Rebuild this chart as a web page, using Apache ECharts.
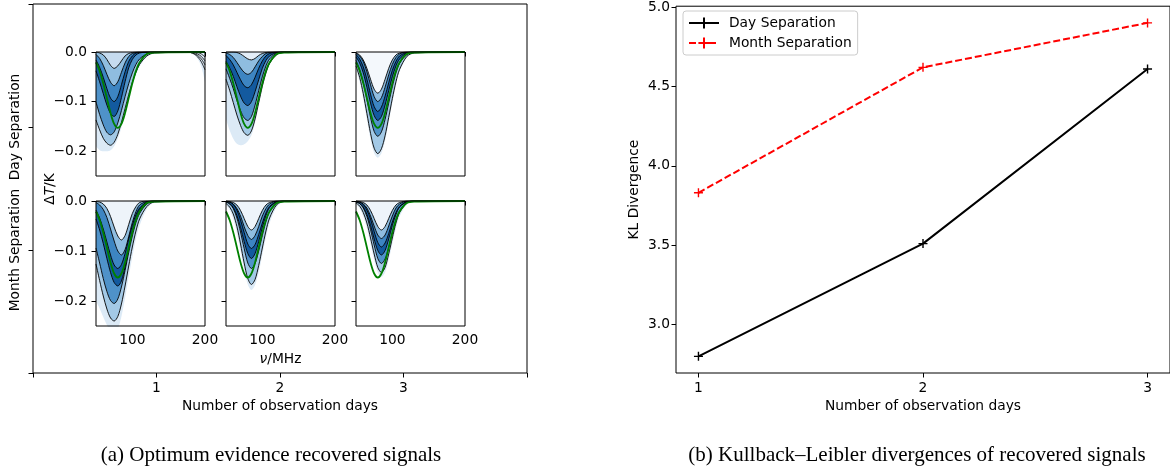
<!DOCTYPE html>
<html><head><meta charset="utf-8">
<script src="https://cdn.jsdelivr.net/npm/echarts@6/dist/echarts.min.js"></script>
<style>html,body{margin:0;padding:0;background:#fff}#c{width:1170px;height:471px}</style>
</head><body><div id="c"></div>
<script>
// ---------- data ----------
const days = [1, 2, 3];
const klDay = [2.80, 3.51, 4.61];
const klMonth = [3.83, 4.62, 4.90];
const klTicks = [3.0, 3.5, 4.0, 4.5, 5.0];
const outerXTicks = [0, 1, 2, 3, 4];
const outerYTicks = [0, 1, 2, 3];
const rowLabels = ['', 'Month Separation', 'Day Separation', ''];
const innerXTicks = [100, 200];
const innerYTicks = [0, -0.1, -0.2];

const freq = [50, 55, 60, 65, 70, 75, 80, 85, 90, 95, 100, 105, 110, 120, 130, 200];
const trueSignal = [-0.021,-0.038,-0.063,-0.093,-0.123,-0.145,-0.153,-0.145,-0.123,-0.093,-0.063,-0.038,-0.021,-0.004,-0.001,0];

const day1_c1 = [0,-0.002,-0.006,-0.015,-0.027,-0.033,-0.028,-0.018,-0.008,-0.003,-0.001,0,0,0,0,0];
const day1_c2 = [-0.005,-0.013,-0.027,-0.045,-0.061,-0.068,-0.060,-0.041,-0.022,-0.009,-0.003,-0.001,0,0,0,0];
const day1_c3 = [-0.016,-0.031,-0.051,-0.074,-0.093,-0.100,-0.090,-0.066,-0.040,-0.019,-0.008,-0.002,-0.001,0,0,0];
const day1_c4 = [-0.038,-0.060,-0.084,-0.107,-0.124,-0.130,-0.119,-0.092,-0.060,-0.032,-0.015,-0.006,-0.002,0,0,0];
const day1_c5 = [-0.101,-0.126,-0.147,-0.162,-0.167,-0.161,-0.143,-0.118,-0.090,-0.064,-0.042,-0.025,-0.014,-0.004,-0.001,0];
const day1_c6 = [-0.137,-0.157,-0.174,-0.184,-0.188,-0.182,-0.166,-0.142,-0.114,-0.086,-0.061,-0.041,-0.025,-0.008,-0.002,0];
const day1_halo = [-0.190,-0.198,-0.200,-0.200,-0.198,-0.190,-0.175,-0.152,-0.124,-0.095,-0.068,-0.046,-0.029,-0.010,-0.003,0];

const day2_c1 = [0,0,0,-0.001,-0.004,-0.009,-0.014,-0.016,-0.013,-0.007,-0.003,-0.001,0,0,0,0];
const day2_c2 = [-0.002,-0.005,-0.011,-0.021,-0.032,-0.041,-0.045,-0.041,-0.030,-0.018,-0.009,-0.003,-0.001,0,0,0];
const day2_c3 = [-0.007,-0.015,-0.026,-0.041,-0.056,-0.068,-0.072,-0.066,-0.051,-0.033,-0.018,-0.008,-0.003,0,0,0];
const day2_c4 = [-0.019,-0.032,-0.049,-0.070,-0.089,-0.103,-0.108,-0.100,-0.080,-0.056,-0.033,-0.017,-0.008,-0.001,0,0];
const day2_c5 = [-0.034,-0.053,-0.074,-0.098,-0.118,-0.133,-0.138,-0.130,-0.107,-0.078,-0.050,-0.028,-0.014,-0.002,0,0];
const day2_c6 = [-0.055,-0.077,-0.102,-0.127,-0.148,-0.163,-0.168,-0.159,-0.135,-0.102,-0.069,-0.042,-0.023,-0.005,-0.001,0];
const day2_halo = [-0.135,-0.158,-0.175,-0.185,-0.188,-0.186,-0.180,-0.168,-0.143,-0.109,-0.075,-0.047,-0.026,-0.006,-0.001,0];

const day3_c1 = [-0.002,-0.006,-0.016,-0.033,-0.055,-0.075,-0.083,-0.075,-0.055,-0.033,-0.016,-0.006,-0.002,0,0,0];
const day3_c2 = [-0.002,-0.008,-0.019,-0.040,-0.066,-0.090,-0.100,-0.092,-0.071,-0.046,-0.025,-0.011,-0.004,0,0,0];
const day3_c3 = [-0.005,-0.014,-0.030,-0.055,-0.085,-0.110,-0.120,-0.111,-0.089,-0.062,-0.037,-0.019,-0.008,-0.001,0,0];
const day3_c4 = [-0.010,-0.022,-0.042,-0.071,-0.103,-0.128,-0.138,-0.130,-0.107,-0.078,-0.050,-0.028,-0.014,-0.002,0,0];
const day3_c5 = [-0.017,-0.035,-0.061,-0.096,-0.132,-0.160,-0.170,-0.161,-0.136,-0.103,-0.070,-0.042,-0.023,-0.005,-0.001,0];
const day3_c6 = [-0.028,-0.051,-0.084,-0.124,-0.164,-0.194,-0.205,-0.195,-0.169,-0.132,-0.094,-0.060,-0.035,-0.009,-0.002,0];
const day3_halo = [-0.035,-0.060,-0.095,-0.136,-0.176,-0.204,-0.213,-0.204,-0.179,-0.142,-0.103,-0.067,-0.040,-0.011,-0.003,0];

const month1_c1 = [-0.001,-0.002,-0.006,-0.015,-0.031,-0.052,-0.070,-0.078,-0.069,-0.047,-0.025,-0.011,-0.003,0,0,0];
const month1_c2 = [-0.003,-0.008,-0.017,-0.033,-0.056,-0.080,-0.100,-0.108,-0.097,-0.071,-0.043,-0.021,-0.008,-0.001,0,0];
const month1_c3 = [-0.018,-0.034,-0.056,-0.082,-0.108,-0.128,-0.135,-0.127,-0.105,-0.076,-0.049,-0.027,-0.014,-0.002,0,0];
const month1_c4 = [-0.036,-0.058,-0.085,-0.115,-0.143,-0.163,-0.170,-0.160,-0.132,-0.096,-0.061,-0.035,-0.017,-0.003,0,0];
const month1_c5 = [-0.094,-0.124,-0.155,-0.181,-0.199,-0.205,-0.196,-0.172,-0.139,-0.103,-0.070,-0.043,-0.025,-0.006,-0.001,0];
const month1_c6 = [-0.126,-0.159,-0.190,-0.216,-0.234,-0.240,-0.231,-0.206,-0.170,-0.130,-0.092,-0.060,-0.036,-0.011,-0.002,0];
const month1_halo = [-0.200,-0.215,-0.232,-0.248,-0.260,-0.265,-0.256,-0.231,-0.194,-0.152,-0.112,-0.076,-0.049,-0.016,-0.004,0];

const month2_c1 = [0,-0.001,-0.003,-0.008,-0.019,-0.035,-0.051,-0.058,-0.051,-0.035,-0.019,-0.008,-0.003,0,0,0];
const month2_c2 = [0,-0.002,-0.006,-0.015,-0.030,-0.051,-0.069,-0.077,-0.069,-0.051,-0.030,-0.015,-0.006,0,0,0];
const month2_c3 = [-0.001,-0.002,-0.007,-0.018,-0.038,-0.063,-0.086,-0.095,-0.087,-0.067,-0.044,-0.024,-0.011,-0.001,0,0];
const month2_c4 = [-0.002,-0.005,-0.013,-0.029,-0.053,-0.081,-0.105,-0.115,-0.105,-0.081,-0.053,-0.029,-0.013,-0.002,0,0];
const month2_c5 = [-0.002,-0.006,-0.015,-0.034,-0.062,-0.095,-0.124,-0.135,-0.125,-0.100,-0.069,-0.041,-0.021,-0.004,0,0];
const month2_c6 = [-0.005,-0.012,-0.026,-0.051,-0.086,-0.124,-0.155,-0.167,-0.157,-0.129,-0.094,-0.060,-0.034,-0.007,-0.001,0];
const month2_halo = [-0.008,-0.018,-0.036,-0.064,-0.100,-0.138,-0.167,-0.178,-0.168,-0.143,-0.108,-0.073,-0.044,-0.012,-0.002,0];

const month3_c1 = [0,-0.001,-0.003,-0.008,-0.019,-0.035,-0.051,-0.058,-0.051,-0.035,-0.019,-0.008,-0.003,0,0,0];
const month3_c2 = [0,-0.002,-0.006,-0.014,-0.030,-0.050,-0.068,-0.075,-0.068,-0.050,-0.030,-0.014,-0.006,0,0,0];
const month3_c3 = [-0.001,-0.002,-0.007,-0.018,-0.036,-0.061,-0.083,-0.092,-0.084,-0.065,-0.042,-0.023,-0.011,-0.001,0,0];
const month3_c4 = [-0.002,-0.005,-0.012,-0.027,-0.049,-0.076,-0.099,-0.108,-0.099,-0.076,-0.049,-0.027,-0.012,-0.002,0,0];
const month3_c5 = [-0.002,-0.005,-0.014,-0.031,-0.057,-0.088,-0.115,-0.125,-0.116,-0.093,-0.064,-0.038,-0.020,-0.003,0,0];
const month3_c6 = [-0.004,-0.010,-0.023,-0.044,-0.074,-0.106,-0.133,-0.143,-0.133,-0.106,-0.074,-0.044,-0.023,-0.004,0,0];
const month3_halo = [-0.007,-0.015,-0.031,-0.055,-0.086,-0.118,-0.143,-0.152,-0.143,-0.118,-0.086,-0.055,-0.031,-0.007,-0.001,0];

// high-frequency noise in the 1-day / day-separation panel
const noiseFreq = [175, 180, 185, 190, 195, 200];
const noise_1 = [0, 0, 0, -0.001, -0.004, -0.010];
const noise_2 = [0, 0, -0.001, -0.004, -0.009, -0.018];
const noise_3 = [0, -0.001, -0.003, -0.007, -0.014, -0.026];
const noise_4 = [0, -0.001, -0.004, -0.010, -0.020, -0.036];
const noise_halo = [0, -0.002, -0.006, -0.014, -0.030, -0.060];

// ---------- build ----------
const FONT = 'DejaVu Sans';
const FS = 13.8;
const lab = {color: '#000', fontSize: FS, fontFamily: FONT};
const italicRich = {i: {fontStyle: 'italic', fontSize: FS, fontFamily: FONT, color: '#000'}, n: {fontSize: FS, fontFamily: FONT, color: '#000'}};

const panels = [
  {row: 0, col: 0, c: [day1_c1, day1_c2, day1_c3, day1_c4, day1_c5, day1_c6], halo: day1_halo, top: '#c6dbef'},
  {row: 0, col: 1, c: [day2_c1, day2_c2, day2_c3, day2_c4, day2_c5, day2_c6], halo: day2_halo, top: '#e4eef8'},
  {row: 0, col: 2, c: [day3_c1, day3_c2, day3_c3, day3_c4, day3_c5, day3_c6], halo: day3_halo, top: '#f4f8fc'},
  {row: 1, col: 0, c: [month1_c1, month1_c2, month1_c3, month1_c4, month1_c5, month1_c6], halo: month1_halo, top: '#eef4fa'},
  {row: 1, col: 1, c: [month2_c1, month2_c2, month2_c3, month2_c4, month2_c5, month2_c6], halo: month2_halo, top: '#eef4fa'},
  {row: 1, col: 2, c: [month3_c1, month3_c2, month3_c3, month3_c4, month3_c5, month3_c6], halo: month3_halo, top: '#eef4fa'}
];
const colLeft = [96, 226, 356];
const rowTop = [52, 201];
const rowH = [124, 125];
const bandColors = ['#8fbde0', '#3d85c2', '#135a9f', '#4f92c9', '#a3c9e6']; // c2..c6 fills

const pts = (xs, arr) => xs.map((f, i) => [f, arr[i]]);
const grids = [], xAxes = [], yAxes = [], series = [];

// outer frame (panel a)
grids.push({left: 33, top: 4, width: 494, height: 369, show: true, borderColor: '#000', borderWidth: 1, backgroundColor: 'transparent', z: 10});
xAxes.push({type: 'value', gridIndex: 0, min: 0, max: 4, axisLine: {show: false}, splitLine: {show: false},
  axisTick: {show: true, length: 4.5, lineStyle: {color: '#000'}, customValues: outerXTicks},
  axisLabel: {...lab, margin: 8, customValues: days},
  name: 'Number of observation days', nameLocation: 'middle', nameGap: 26, nameTextStyle: {...lab}});
yAxes.push({type: 'value', gridIndex: 0, min: 0, max: 3, axisLine: {show: false}, splitLine: {show: false},
  axisTick: {show: true, length: 4.5, lineStyle: {color: '#000'}, customValues: outerYTicks},
  axisLabel: {...lab, margin: 11, rotate: 90, customValues: [1, 2], formatter: v => rowLabels[Math.round(v)]}});

panels.forEach((p, k) => {
  const gi = k + 1;
  grids.push({left: colLeft[p.col], top: rowTop[p.row], width: 109, height: rowH[p.row], show: true,
    borderColor: '#000', borderWidth: 1, backgroundColor: 'transparent', z: 10});
  const xa = {type: 'value', gridIndex: gi, min: 50, max: 200, axisLine: {show: false}, splitLine: {show: false},
    axisTick: {show: true, length: 4.5, lineStyle: {color: '#000'}, customValues: innerXTicks},
    axisLabel: {show: p.row === 1, ...lab, margin: 7, customValues: innerXTicks}};
  if (p.row === 1 && p.col === 1) {
    Object.assign(xa, {name: '{i|ν}{n|/MHz}', nameLocation: 'middle', nameGap: 26, nameTextStyle: {...lab, rich: italicRich}});
  }
  xAxes.push(xa);
  yAxes.push({type: 'value', gridIndex: gi, min: -0.25, max: 0, axisLine: {show: false}, splitLine: {show: false},
    axisTick: {show: true, length: 4.5, lineStyle: {color: '#000'}, customValues: innerYTicks},
    axisLabel: {show: p.col === 0, ...lab, margin: 9, customValues: innerYTicks,
      formatter: v => (Math.abs(v) < 1e-9 ? '0.0' : '\u2212' + Math.abs(v).toFixed(1))}});
  const fillSeq = [[p.halo, '#dceaf6'], [p.c[5], bandColors[4]], [p.c[4], bandColors[3]], [p.c[3], bandColors[2]],
                   [p.c[2], bandColors[1]], [p.c[1], bandColors[0]], [p.c[0], p.top]];
  const base = {type: 'line', xAxisIndex: gi, yAxisIndex: gi, symbol: 'none', smooth: 0.3, silent: true, animation: false};
  fillSeq.forEach(([arr, col]) => series.push({...base, data: pts(freq, arr), lineStyle: {opacity: 0}, areaStyle: {color: col, opacity: 1}, z: 2}));
  if (k === 0) {
    series.push({...base, data: pts(noiseFreq, noise_halo), lineStyle: {opacity: 0}, areaStyle: {color: '#dceaf6', opacity: 1}, z: 2});
    [noise_1, noise_2, noise_3, noise_4].forEach(arr => series.push({...base, data: pts(noiseFreq, arr), lineStyle: {color: '#000', width: 0.8}, z: 3}));
  }
  p.c.forEach(arr => series.push({...base, data: pts(freq, arr), lineStyle: {color: '#000', width: 0.9}, z: 3}));
  series.push({...base, data: pts(freq, trueSignal), lineStyle: {color: '#008000', width: 1.8}, z: 4});
});

// right panel (b)
grids.push({left: 676, top: 4, width: 494, height: 369, show: true, borderColor: '#000', borderWidth: 1, backgroundColor: 'transparent', z: 10});
xAxes.push({type: 'value', gridIndex: 7, min: 0.9, max: 3.1, axisLine: {show: false}, splitLine: {show: false},
  axisTick: {show: true, length: 4.5, lineStyle: {color: '#000'}, customValues: days},
  axisLabel: {...lab, margin: 8, customValues: days},
  name: 'Number of observation days', nameLocation: 'middle', nameGap: 26, nameTextStyle: {...lab}});
yAxes.push({type: 'value', gridIndex: 7, min: 2.695, max: 5.005, axisLine: {show: false}, splitLine: {show: false},
  axisTick: {show: true, length: 4.5, lineStyle: {color: '#000'}, customValues: klTicks},
  axisLabel: {...lab, margin: 6, customValues: klTicks, formatter: v => v.toFixed(1)},
  name: 'KL Divergence', nameLocation: 'middle', nameGap: 35, nameRotate: 90, nameTextStyle: {...lab}});
const plus = 'path://M0,5L10,5M5,0L5,10';
series.push({name: 'Day Separation', type: 'line', xAxisIndex: 7, yAxisIndex: 7, data: pts(days, klDay),
  symbol: plus, symbolSize: 9, showSymbol: true, silent: true, animation: false,
  lineStyle: {color: '#000', width: 2}, itemStyle: {color: '#000', borderColor: '#000', borderWidth: 1.4}, z: 3});
series.push({name: 'Month Separation', type: 'line', xAxisIndex: 7, yAxisIndex: 7, data: pts(days, klMonth),
  symbol: plus, symbolSize: 9, showSymbol: true, silent: true, animation: false,
  lineStyle: {color: '#ff0000', width: 2, type: [7, 3]}, itemStyle: {color: '#ff0000', borderColor: '#ff0000', borderWidth: 1.4}, z: 3});

const chart = echarts.init(document.getElementById('c'), null, {renderer: 'canvas'});
chart.setOption({
  animation: false,
  backgroundColor: '#fff',
  grid: grids, xAxis: xAxes, yAxis: yAxes, series: series,
  legend: {data: ['Day Separation', 'Month Separation'], orient: 'vertical', left: 683, top: 11,
    itemWidth: 30, itemHeight: 14, itemGap: 6, padding: [5, 6, 5, 5], borderColor: '#cccccc', borderWidth: 1,
    borderRadius: 3, backgroundColor: 'rgba(255,255,255,0.8)', selectedMode: false,
    textStyle: {...lab, padding: [0, 0, 0, 5]}},
  graphic: [
    {type: 'text', x: 50, y: 189, rotation: Math.PI / 2, silent: true,
      style: {text: '{n|Δ}{i|T}{n|/K}', rich: italicRich, fontSize: FS, fontFamily: FONT, fill: '#000',
        align: 'center', verticalAlign: 'middle', textAlign: 'center', textVerticalAlign: 'middle'}},
    {type: 'text', x: 271, y: 455, silent: true,
      style: {text: '(a) Optimum evidence recovered signals', fontSize: 21, fontFamily: 'Liberation Serif', fill: '#000',
        align: 'center', verticalAlign: 'middle', textAlign: 'center', textVerticalAlign: 'middle'}},
    {type: 'text', x: 917, y: 455, silent: true,
      style: {text: '(b) Kullback\u2013Leibler divergences of recovered signals', fontSize: 21, fontFamily: 'Liberation Serif', fill: '#000',
        align: 'center', verticalAlign: 'middle', textAlign: 'center', textVerticalAlign: 'middle'}}
  ]
});
</script>
</body></html>
